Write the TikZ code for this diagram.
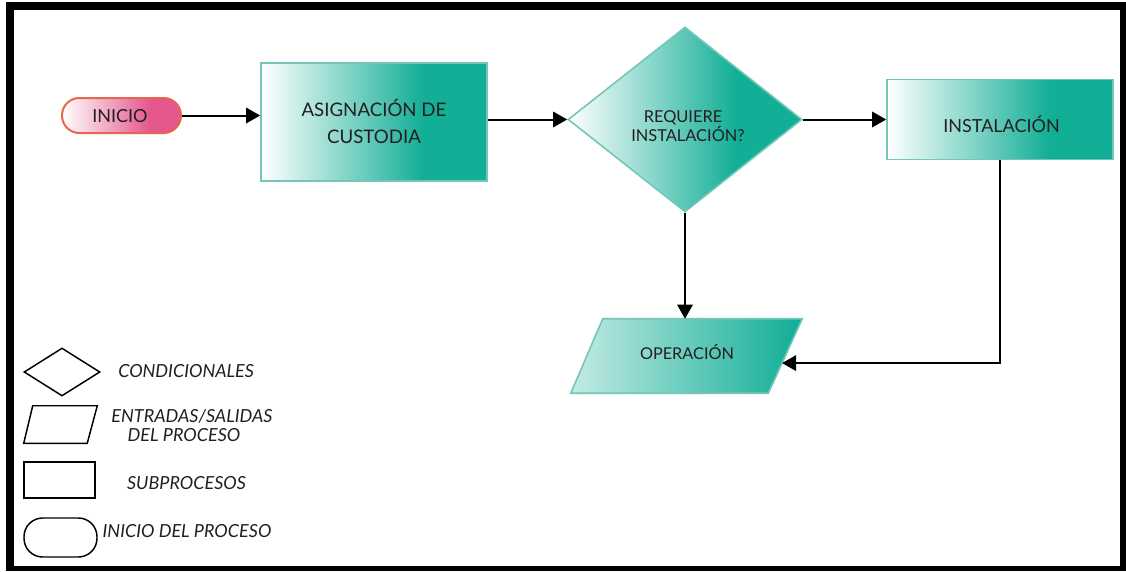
\documentclass[tikz,border=0pt]{standalone}
\usepackage{fontspec}
\setmainfont{Lato}
\usetikzlibrary{arrows.meta,shapes.geometric,calc}

\definecolor{teal0}{HTML}{12AE96}
\definecolor{tealedge}{HTML}{74C7B8}
\definecolor{pinkfill}{HTML}{E4578C}
\definecolor{pinkedge}{HTML}{E8654F}
\definecolor{ink}{HTML}{231F20}

% left-to-right gradients (the middle 25bp..75bp band spans the shape)
\pgfdeclarehorizontalshading{tealshade}{100bp}{color(0bp)=(white); color(25bp)=(white); color(61bp)=(teal0); color(100bp)=(teal0)}
\pgfdeclarehorizontalshading{opshade}{100bp}{color(0bp)=(teal0!25!white); color(25bp)=(teal0!25!white); color(74bp)=(teal0); color(100bp)=(teal0)}
\pgfdeclarehorizontalshading{pinkshade}{100bp}{color(0bp)=(white); color(25bp)=(white); color(62bp)=(pinkfill); color(100bp)=(pinkfill)}

\tikzset{
  tealbox/.style={rectangle, draw=tealedge, line width=1.2pt, shading=tealshade, inner sep=0pt},
  tealdia/.style={diamond, draw=tealedge, line width=1.2pt, shading=tealshade, inner sep=0pt},
  tealpar/.style={draw=tealedge, line width=1.2pt, shading=opshade},
  frameonly/.style={rectangle, inner sep=0pt},
  startpill/.style={rectangle, rounded corners=13pt, draw=pinkedge, line width=1.5pt, shading=pinkshade, inner sep=0pt},
  legshape/.style={draw=black, line width=1.1pt, fill=white, inner sep=0pt},
  lbl/.style={inner sep=0pt, text=ink, anchor=base, font=\fontsize{14}{16}\selectfont},
  leglbl/.style={inner sep=0pt, text=ink, anchor=base, font=\fontsize{13.5}{15}\selectfont\itshape},
  arr/.style={line width=1.5pt, draw=black, -{Triangle[length=10.5pt,width=11.5pt]}},
}

\begin{document}
\begin{tikzpicture}[x=0.75pt,y=-0.75pt]
  % page and black frame
  \fill[white] (0,0) rectangle (1126,571);
  \useasboundingbox (0,0) rectangle (1126,571);
  \fill[black] (6,2) rectangle (1126,571);
  \fill[white] (14,10) rectangle (1120,566);

  % flow shapes
  \node[startpill, minimum width=89.25pt, minimum height=26.25pt] (start) at (121.5,115.5) {};
  \node[tealbox, minimum width=169.5pt, minimum height=88.5pt] (asig) at (374,122) {};
  \node[tealdia, minimum width=175.5pt, minimum height=138.75pt] (req) at (685,119.5) {};
  \node[tealbox, minimum width=169.5pt, minimum height=60pt] (inst) at (1000,119.5) {};
  % parallelogram: a bounding node plus its slanted outline
  \node[frameonly, minimum width=173.25pt, minimum height=55.5pt] (op) at (686.5,356) {};
  \coordinate (optl) at ($(op.north west)+(32,0)$);
  \coordinate (opbr) at ($(op.south east)+(-34,0)$);
  \shade[tealpar] (optl) -- (op.north east) -- (opbr) -- (op.south west) -- cycle;

  % flow labels
  \node[lbl, font=\fontsize{13.5}{15}\selectfont] (tstart) at (120,122) {INICIO};
  \node[lbl] (tasig1) at (374,116) {ASIGNACIÓN DE};
  \node[lbl] (tasig2) at (374,143) {CUSTODIA};
  \node[lbl, font=\fontsize{12.3}{14}\selectfont] (treq1) at (683,122.5) {REQUIERE};
  \node[lbl, font=\fontsize{12.3}{14}\selectfont] (treq2) at (688,141) {INSTALACIÓN?};
  \node[lbl, font=\fontsize{13.5}{15}\selectfont] (tinst) at (1001.5,132) {INSTALACIÓN};
  \node[lbl, font=\fontsize{12.2}{14}\selectfont] (top) at (687,359) {OPERACIÓN};

  % connectors
  \coordinate (opin) at ($(op.north east)!0.595!(opbr)$);
  \draw[arr] (start.east) -- (start.east -| asig.west);
  \draw[arr] (asig.east |- req.west) -- (req.west);
  \draw[arr] (req.east) -- (req.east -| inst.west);
  \draw[arr] (req.south) -- (req.south |- op.north);
  \draw[arr] (inst.south) |- (opin);

  % legend
  \node[legshape, diamond, minimum width=57pt, minimum height=36pt] (lgdia) at (62,372) {};
  \node[frameonly, minimum width=54.75pt, minimum height=27.75pt] (lgpar) at (60.5,424.5) {};
  \draw[legshape] ($(lgpar.north west)+(9,0)$) -- (lgpar.north east)
                  -- ($(lgpar.south east)+(-10,0)$) -- (lgpar.south west) -- cycle;
  \node[legshape, rectangle, minimum width=53.25pt, minimum height=27pt] (lgbox) at (59.5,480) {};
  \node[legshape, rectangle, rounded corners=14pt, minimum width=54.75pt, minimum height=29.25pt] (lgpill) at (60.5,537.5) {};

  \node[leglbl, anchor=base west] (lt1) at (118,377) {CONDICIONALES};
  \node[leglbl] (lt2a) at (192,422) {ENTRADAS/SALIDAS};
  \node[leglbl] (lt2b) at (184,441) {DEL PROCESO};
  \node[leglbl] (lt3) at (186.5,489) {SUBPROCESOS};
  \node[leglbl] (lt4) at (187,537) {INICIO DEL PROCESO};
\end{tikzpicture}
\end{document}
